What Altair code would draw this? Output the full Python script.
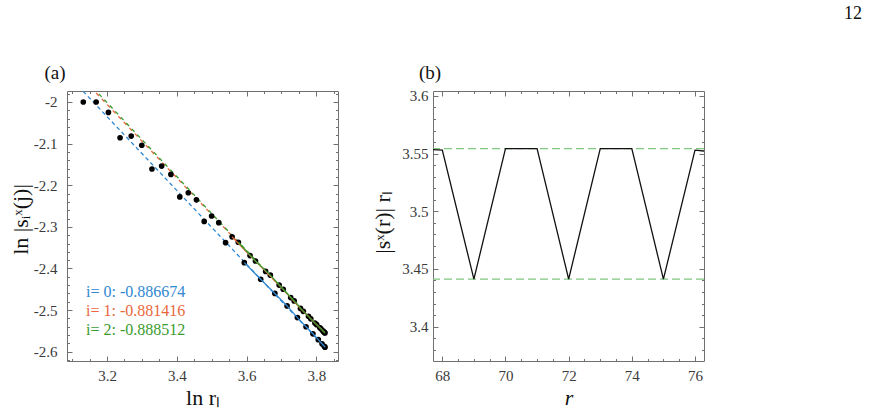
import altair as alt
import pandas as pd

SERIF = "Liberation Serif, Times New Roman, serif"
FRAME = "#707070"
LBL = "#3a3a3a"

# ---------------- panel (a) data ----------------
r_sites = list(range(24, 73))
ln_rL = [3.1319, 3.1688, 3.2039, 3.2374, 3.2693, 3.2997, 3.3288, 3.3566, 3.3832, 3.4086,
         3.4330, 3.4563, 3.4786, 3.4999, 3.5204, 3.5399, 3.5586, 3.5765, 3.5936, 3.6100,
         3.6256, 3.6406, 3.6548, 3.6683, 3.6812, 3.6935, 3.7052, 3.7163, 3.7267, 3.7366,
         3.7459, 3.7547, 3.7629, 3.7706, 3.7777, 3.7843, 3.7904, 3.7960, 3.8011, 3.8057,
         3.8098, 3.8134, 3.8165, 3.8191, 3.8213, 3.8229, 3.8241, 3.8248, 3.8251]
ln_s = [-2.000, -2.000, -2.025, -2.086, -2.082, -2.104, -2.161, -2.154, -2.174, -2.228,
        -2.218, -2.235, -2.287, -2.274, -2.290, -2.338, -2.324, -2.337, -2.386, -2.369,
        -2.382, -2.426, -2.407, -2.416, -2.460, -2.440, -2.450, -2.490, -2.470, -2.478,
        -2.518, -2.496, -2.503, -2.540, -2.515, -2.521, -2.557, -2.531, -2.535, -2.571,
        -2.542, -2.545, -2.581, -2.550, -2.552, -2.587, -2.554, -2.555, -2.589]

fit_labels = ["i= 0: -0.886674", "i= 1: -0.881416", "i= 2: -0.888512"]
fit_slope = [-0.886674, -0.881416, -0.888512]
fit_icpt = [0.8023, 0.8147, 0.8418]
fit_first_r = [42, 40, 41]
fit_colors = ["#2f88d2", "#e8683c", "#3c9b2e"]
fit_x_range = [3.09, 3.8251]

a_x_major = [3.2, 3.4, 3.6, 3.8]
a_x_minor = [3.1, 3.15, 3.25, 3.3, 3.35, 3.45, 3.5, 3.55, 3.65, 3.7, 3.75, 3.85]
a_y_major = [-2.6, -2.5, -2.4, -2.3, -2.2, -2.1, -2.0]
a_y_minor = [-2.62, -2.58, -2.56, -2.54, -2.52, -2.48, -2.46, -2.44, -2.42,
             -2.38, -2.36, -2.34, -2.32, -2.28, -2.26, -2.24, -2.22,
             -2.18, -2.16, -2.14, -2.12, -2.08, -2.06, -2.04, -2.02, -1.98]

# ---------------- panel (b) data ----------------
r_b = [67, 68, 69, 70, 71, 72, 73, 74, 75, 76, 77]
s_times_rL = [3.5544, 3.5530, 3.4412, 3.5544, 3.5544, 3.4412, 3.5544, 3.5543, 3.4412, 3.5530, 3.5505]
ref_levels = [3.5544, 3.4412]

b_x_major = [68, 70, 72, 74, 76]
b_x_minor = [68.5, 69, 69.5, 70.5, 71, 71.5, 72.5, 73, 73.5, 74.5, 75, 75.5]
b_y_major = [3.4, 3.45, 3.5, 3.55, 3.6]
b_y_minor = [3.38, 3.39, 3.41, 3.42, 3.43, 3.44, 3.46, 3.47, 3.48, 3.49,
             3.51, 3.52, 3.53, 3.54, 3.56, 3.57, 3.58, 3.59]

panel_tags = ["(a)", "(b)"]
page_no = ["12"]

W, H = 271, 270


def frame_layers(xs, ys, x0, y0, xmaj, xmin, ymaj, ymin, xtitle, ytitle,
                 xlabpad, ylabpad, yt_pos, xstyle):
    d = pd.DataFrame({"x": [x0], "y": [y0]})
    base = alt.Chart(d).mark_point(opacity=0)
    tick_common = dict(grid=False, domain=False, labels=False, tickColor=FRAME,
                       tickWidth=1, title=None)
    lab_common = dict(grid=False, domain=False, ticks=False, tickSize=0,
                      labelFont=SERIF, labelFontSize=15, labelColor=LBL,
                      labelExpr="'' + datum.value", labelOverlap=False, labelFlush=False,
                      titleFont=SERIF, titleFontSize=22, titleFontWeight="normal",
                      titleColor="#111111")
    layers = [base.encode(
        x=alt.X("x:Q", scale=xs, axis=alt.Axis(orient="bottom", values=xmaj, labelPadding=xlabpad,
                                               title=xtitle, titlePadding=4,
                                               titleFontStyle=xstyle, **lab_common)),
        y=alt.Y("y:Q", scale=ys, axis=alt.Axis(orient="left", values=ymaj, labelPadding=ylabpad,
                                               title=ytitle, titleX=yt_pos[0], titleY=yt_pos[1],
                                               titleAngle=270, titleAlign="center",
                                               titleBaseline="middle", **lab_common)))]
    for ox, oy, vx, vy, sz in [("bottom", "left", xmaj, ymaj, 5), ("bottom", "left", xmin, ymin, 2.5),
                               ("top", "right", xmaj, ymaj, 5), ("top", "right", xmin, ymin, 2.5)]:
        layers.append(base.encode(
            x=alt.X("x:Q", scale=xs, axis=alt.Axis(orient=ox, values=vx, tickSize=sz, offset=-sz, **tick_common)),
            y=alt.Y("y:Q", scale=ys, axis=alt.Axis(orient=oy, values=vy, tickSize=sz, offset=-sz, **tick_common))))
    return layers


# ---------------- panel (a) ----------------
xa = alt.Scale(domain=[3.0852, 3.8623], nice=False, zero=False)
ya = alt.Scale(domain=[-2.6223, -1.9736], nice=False, zero=False)

pts = pd.DataFrame({"r": r_sites, "x": ln_rL, "y": ln_s})
pts["i"] = pts["r"] % 3

a_layers = []
dash_styles = [dict(strokeDash=[4, 3]), dict(strokeDash=[4, 4]), dict(strokeDash=[4, 4], strokeDashOffset=4)]
for i in range(3):
    fd = pd.DataFrame({"x": fit_x_range,
                       "y": [fit_icpt[i] + fit_slope[i] * xv for xv in fit_x_range]})
    a_layers.append(alt.Chart(fd).mark_line(color=fit_colors[i], strokeWidth=1.3, clip=True, **dash_styles[i])
                    .encode(x=alt.X("x:Q", scale=xa, axis=None), y=alt.Y("y:Q", scale=ya, axis=None)))

a_layers.append(alt.Chart(pts).mark_circle(size=32, color="black", opacity=1)
                .encode(x=alt.X("x:Q", scale=xa, axis=None), y=alt.Y("y:Q", scale=ya, axis=None)))

for i in range(3):
    sd = pts[(pts["i"] == i) & (pts["r"] >= fit_first_r[i])]
    a_layers.append(alt.Chart(sd).mark_line(color=fit_colors[i], strokeWidth=1.3)
                    .encode(x=alt.X("x:Q", scale=xa, axis=None), y=alt.Y("y:Q", scale=ya, axis=None),
                            order="r:Q"))

for i in range(3):
    td = pd.DataFrame({"t": [fit_labels[i]]})
    a_layers.append(alt.Chart(td).mark_text(font=SERIF, fontSize=16, color=fit_colors[i], align="left",
                                            baseline="middle")
                    .encode(text="t:N", x=alt.value(19), y=alt.value(201 + 19 * i)))

a_layers.append(alt.Chart(pd.DataFrame({"t": [panel_tags[0]]}))
                .mark_text(font=SERIF, fontSize=19, color="#111111", align="center", baseline="middle")
                .encode(text="t:N", x=alt.value(-12), y=alt.value(-18)))

a_layers += frame_layers(xa, ya, 3.5, -2.3, a_x_major, a_x_minor, a_y_major, a_y_minor,
                         "ln rₗ", "ln |sᵢˣ(j)|", 7, 10, (-47, 128), "normal")

panel_a = alt.layer(*a_layers).resolve_axis(x="independent", y="independent").properties(width=W, height=H)

# ---------------- panel (b) ----------------
xb = alt.Scale(domain=[67.705, 76.285], nice=False, zero=False)
yb = alt.Scale(domain=[3.3702, 3.6043], nice=False, zero=False)

b_layers = []
b_layers.append(alt.Chart(pd.DataFrame({"y": ref_levels}))
                .mark_rule(color="#80c880", strokeWidth=1.2, strokeDash=[8, 4])
                .encode(y=alt.Y("y:Q", scale=yb, axis=None)))
b_layers.append(alt.Chart(pd.DataFrame({"r": r_b, "v": s_times_rL}))
                .mark_line(color="#111111", strokeWidth=1.3, clip=True)
                .encode(x=alt.X("r:Q", scale=xb, axis=None), y=alt.Y("v:Q", scale=yb, axis=None)))
b_layers.append(alt.Chart(pd.DataFrame({"t": [panel_tags[1]]}))
                .mark_text(font=SERIF, fontSize=19, color="#111111", align="center", baseline="middle")
                .encode(text="t:N", x=alt.value(-3), y=alt.value(-17.7)))
b_layers.append(alt.Chart(pd.DataFrame({"t": page_no}))
                .mark_text(font=SERIF, fontSize=18, color="#111111", align="center", baseline="middle")
                .encode(text="t:N", x=alt.value(420), y=alt.value(-77)))
b_layers += frame_layers(xb, yb, 72, 3.5, b_x_major, b_x_minor, b_y_major, b_y_minor,
                         "r", "|sˣ(r)| rₗ", 7, 5, (-51, 131), "italic")

panel_b = alt.layer(*b_layers).resolve_axis(x="independent", y="independent").properties(width=W, height=H)

chart = (alt.hconcat(panel_a, panel_b, spacing=31)
         .properties(padding={"left": 8, "top": 4, "right": 0, "bottom": 0}, background="white")
         .configure_view(stroke=FRAME, strokeWidth=1))

chart.save("out.html", embed_options={"renderer": "svg", "actions": False})
